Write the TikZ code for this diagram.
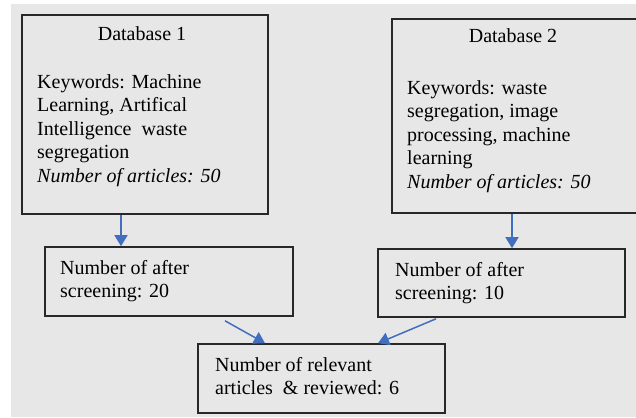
\documentclass[tikz,border=0pt]{standalone}
\usepackage{fontspec}
\setmainfont{Liberation Serif}
\usetikzlibrary{arrows.meta,calc}
\definecolor{bgcol}{RGB}{231,231,231}
\definecolor{arrcol}{RGB}{65,110,190}
\definecolor{boxcol}{RGB}{40,40,40}
\newcommand\myfs{\fontsize{20}{23.5}\selectfont}
\tikzset{
  box/.style={draw=boxcol, line width=1.6pt, rectangle, inner sep=0pt},
  txt/.style={anchor=north west, inner sep=0pt, align=left, font=\myfs, text=black},
  ttl/.style={anchor=base, inner sep=0pt, font=\myfs, text=black},
  arr/.style={draw=arrcol, line width=1.5pt, -{Triangle[width=13pt,length=11pt]}}
}
\begin{document}
\begin{tikzpicture}[x=1pt,y=-1pt]
\useasboundingbox (0,0) rectangle (636,417);
\fill[white] (0,0) rectangle (636,417);
\fill[bgcol] (11,4) rectangle (636,417);
% boxes
\node[box, minimum width=246pt, minimum height=199pt] (db1) at (145,114.5) {};
\node[box, minimum width=248pt, minimum height=194pt] (db2) at (516,116) {};
\node[box, minimum width=248pt, minimum height=69pt] (s1) at (169,281.5) {};
\node[box, minimum width=247pt, minimum height=68pt] (s2) at (501.5,283) {};
\node[box, minimum width=247pt, minimum height=69pt] (fin) at (321.5,378.5) {};
% texts
\node[ttl] (t1) at (142,41) {Database 1};
\node[txt] (k1) at (37,71.5) {\strut Keywords: Machine\\Learning, Artifical\\Intelligence\ \ waste\\segregation\\\textit{Number of articles: 50}};
\node[ttl] (t2) at (513,43) {Database 2};
\node[txt] (k2) at (407,77.5) {\strut Keywords: waste\\segregation, image\\processing, machine\\learning\\\textit{Number of articles: 50}};
\node[txt] (n1) at (60,257.5) {\strut Number of after\\screening: 20};
\node[txt] (n2) at (395,259.5) {\strut Number of after\\screening: 10};
\node[txt] (n3) at (215,354.5) {\strut Number of relevant\\articles\ \ \& reviewed: 6};
% arrows
\draw[arr] ($(db1.south)+(-24,0)$) -- ($(s1.north)+(-48,0)$);
\draw[arr] ($(db2.south)+(-4,0)$) -- ($(s2.north)+(10.5,0)$);
\draw[arr] ($(s1.south)+(56,4)$) -- ($(fin.north)+(-56.5,0)$);
\draw[arr] ($(s2.south)+(-65.5,1)$) -- ($(fin.north)+(56.5,0)$);
\end{tikzpicture}
\end{document}
